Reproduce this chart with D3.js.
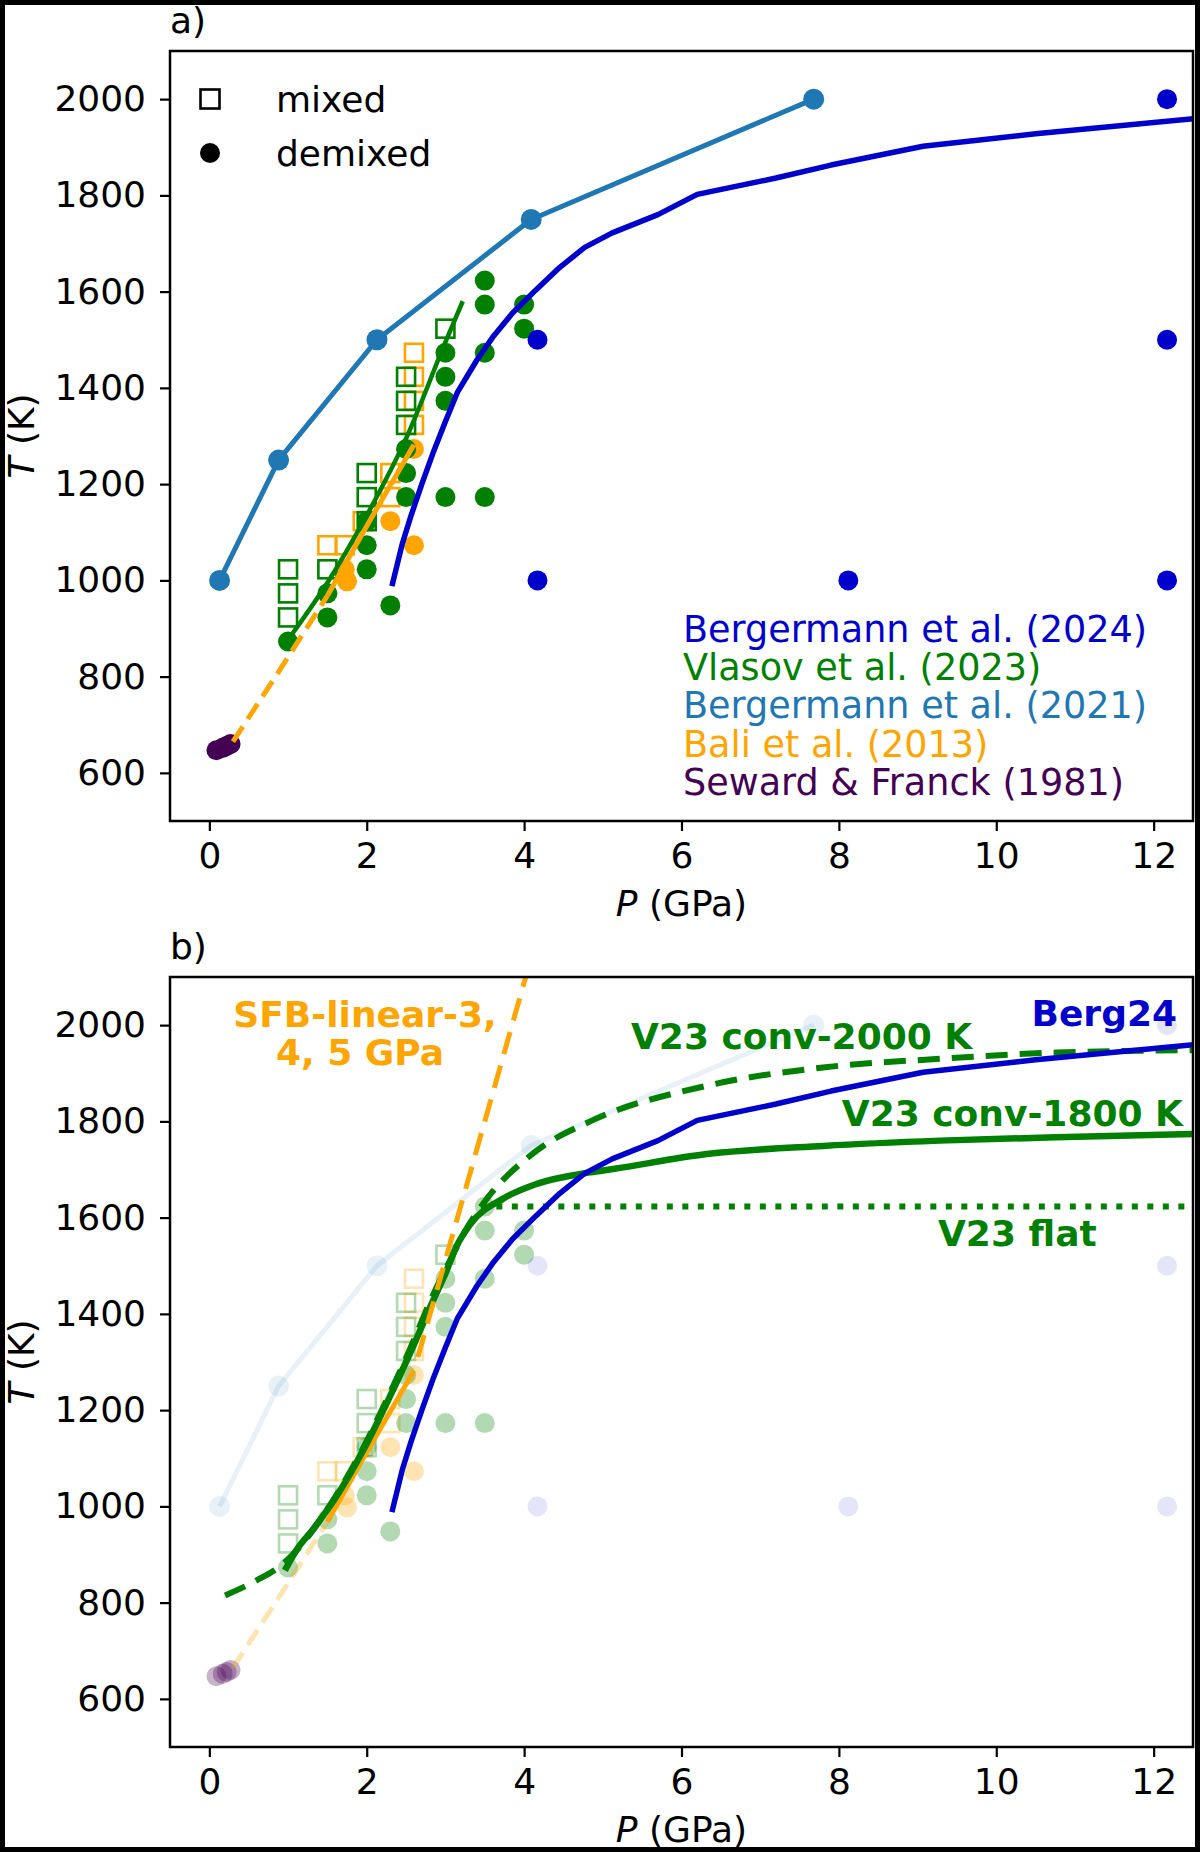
<!DOCTYPE html>
<html>
<head>
<meta charset="utf-8">
<style>
  body { margin: 0; background: #fff; }
  svg { display: block; font-family: "DejaVu Sans", sans-serif; }
</style>
</head>
<body>
<svg id="fig"></svg>
<script src="https://d3js.org/d3.v7.min.js"></script>
<script>
// ---- data (P in GPa, T in K) ----
var xTicks = [0, 2, 4, 6, 8, 10, 12];
var yTicks = [600, 800, 1000, 1200, 1400, 1600, 1800, 2000];

// Bergermann et al. (2021) demixing line
var berg21 = [[0.13, 1000], [0.88, 1250], [2.13, 1500], [4.09, 1750], [7.68, 2000]];

// Bergermann et al. (2024) demixed points + curve
var berg24Pts = [[4.17, 1000], [4.17, 1500], [8.12, 1000], [12.17, 1000], [12.17, 1500], [12.17, 2000]];
var berg24Curve = [[2.32, 988], [2.45, 1075], [2.56, 1133], [2.7, 1200], [2.85, 1268], [3.0, 1330],
  [3.15, 1390], [3.4, 1458], [3.6, 1505], [3.85, 1555], [4.14, 1602], [4.45, 1650], [4.77, 1692],
  [5.12, 1722], [5.7, 1760], [6.2, 1802], [7.2, 1836], [7.9, 1863], [9.07, 1902], [10.5, 1928], [12.6, 1961]];

// Vlasov et al. (2023)
var vlasovMixed = [[1.0, 923], [1.0, 973], [1.0, 1023], [1.5, 1023], [2.0, 1123], [2.0, 1173], [2.0, 1223],
  [2.5, 1323], [2.5, 1373], [2.5, 1423], [3.0, 1523]];
var vlasovDemixed = [[1.0, 873], [1.5, 923], [1.5, 973], [2.0, 1023], [2.0, 1073], [2.0, 1123], [2.3, 948],
  [2.5, 1173], [2.5, 1223], [2.5, 1273], [3.0, 1173], [3.0, 1373], [3.0, 1423], [3.0, 1473],
  [3.5, 1173], [3.5, 1473], [3.5, 1573], [3.5, 1623], [4.0, 1523], [4.0, 1573]];
var vlasovFit = [[1.05, 888], [1.5, 995], [2.0, 1135], [2.5, 1295], [3.0, 1495], [3.22, 1580]];

// Bali et al. (2013)
var baliMixed = [[1.5, 1073], [1.72, 1073], [1.95, 1123], [2.3, 1173], [2.3, 1223],
  [2.6, 1323], [2.6, 1373], [2.6, 1423], [2.6, 1473]];
var baliDemixed = [[1.72, 1023], [1.75, 998], [2.3, 1123], [2.6, 1073], [2.6, 1273]];
var baliExtrap = [[0.3, 665], [0.9, 815], [1.5, 968]];
var baliFit = [[1.5, 968], [2.0, 1113], [2.6, 1282]];

// Seward & Franck (1981)
var seward = [[0.09, 647], [0.17, 652], [0.22, 656], [0.27, 660]];

// panel b models
var sfbLinear = [[2.65, 1310], [4.02, 2100]];
var v23conv2000 = [[0.2, 815], [0.6, 846], [0.94, 881], [1.25, 936], [1.6, 1020], [1.95, 1120],
  [2.25, 1220], [2.55, 1327], [2.85, 1442], [3.05, 1508], [3.23, 1566], [3.48, 1629], [4.16, 1739],
  [4.84, 1800], [6.32, 1874], [7.8, 1912], [9.28, 1930], [10.76, 1943], [12.6, 1948]];
var v23conv1800 = [[0.96, 867], [1.11, 910], [1.32, 953], [1.62, 1022], [1.96, 1118], [2.25, 1213],
  [2.55, 1318], [2.85, 1430], [3.0, 1484], [3.14, 1540], [3.31, 1585], [3.74, 1640], [4.16, 1670],
  [4.84, 1694], [5.13, 1701], [6.32, 1732], [7.8, 1749], [9.28, 1760], [10.76, 1767], [12.6, 1774]];
var v23flat = [[3.45, 1623], [12.6, 1623]];

var sources = ["Bergermann et al. (2024)", "Vlasov et al. (2023)", "Bergermann et al. (2021)",
  "Bali et al. (2013)", "Seward & Franck (1981)"];

// ---- colours ----
var cBerg24 = "#0000cd", cVlasov = "#008000", cBerg21 = "#1f77b4", cBali = "#ffa500", cSeward = "#440154";
var sourceColors = [cBerg24, cVlasov, cBerg21, cBali, cSeward];

var width = 1200, height = 1852;
var left = 170, right = 1193;
var fs = 36;

var svg = d3.select("#fig").attr("width", width).attr("height", height)
  .attr("viewBox", "0 0 " + width + " " + height);

svg.append("rect").attr("width", width).attr("height", height).attr("fill", "#fff");

var panels = [
  { id: "a", top: 51, bottom: 821 },
  { id: "b", top: 977, bottom: 1747 }
];

function drawPanel(p) {
  var faded = p.id === "b";
  var x = d3.scaleLinear().domain([-0.5, 12.5]).range([left, right]);
  var y = d3.scaleLinear().domain([500, 2100]).range([p.bottom, p.top]);
  var line = d3.line().x(function(d) { return x(d[0]); }).y(function(d) { return y(d[1]); });
  var smooth = d3.line().curve(d3.curveMonotoneX)
    .x(function(d) { return x(d[0]); }).y(function(d) { return y(d[1]); });
  var g = svg.append("g").attr("id", "panel-" + p.id);

  g.append("clipPath").attr("id", "clip-" + p.id)
    .append("rect").attr("x", left).attr("y", p.top).attr("width", right - left).attr("height", p.bottom - p.top);
  var plot = g.append("g").attr("clip-path", "url(#clip-" + p.id + ")");

  function path(data, color, w, opts) {
    opts = opts || {};
    plot.append("path").datum(data)
      .attr("d", opts.smooth ? smooth : line)
      .attr("fill", "none")
      .attr("stroke", color)
      .attr("stroke-width", w)
      .attr("stroke-opacity", opts.alpha == null ? 1 : opts.alpha)
      .attr("stroke-dasharray", opts.dash || null)
      .attr("stroke-linecap", opts.cap || "butt")
      .attr("stroke-linejoin", "round");
  }
  function circles(data, color, r, alpha) {
    plot.append("g").selectAll("circle").data(data).enter().append("circle")
      .attr("cx", function(d) { return x(d[0]); })
      .attr("cy", function(d) { return y(d[1]); })
      .attr("r", r)
      .attr("fill", color)
      .attr("fill-opacity", alpha);
  }
  function squares(data, color, s, alpha) {
    plot.append("g").selectAll("rect").data(data).enter().append("rect")
      .attr("x", function(d) { return x(d[0]) - s / 2; })
      .attr("y", function(d) { return y(d[1]) - s / 2; })
      .attr("width", s).attr("height", s)
      .attr("fill", "none")
      .attr("stroke", color)
      .attr("stroke-width", 2.6)
      .attr("stroke-opacity", alpha);
  }

  // Bergermann 2021
  path(berg21, cBerg21, 5, { alpha: faded ? 0.1 : 1 });
  circles(berg21, cBerg21, 10.5, faded ? 0.1 : 1);
  // Bali
  squares(baliMixed, cBali, 18, faded ? 0.3 : 1);
  circles(baliDemixed, cBali, 10, faded ? 0.3 : 1);
  // Vlasov
  squares(vlasovMixed, cVlasov, 18, faded ? 0.3 : 1);
  circles(vlasovDemixed, cVlasov, 10, faded ? 0.3 : 1);
  // Bergermann 2024 points
  circles(berg24Pts, cBerg24, 10, faded ? 0.1 : 1);
  // Seward & Franck
  circles(seward, cSeward, 10, faded ? 0.3 : 1);

  // lines
  path(baliExtrap, cBali, 5, { alpha: faded ? 0.3 : 1, dash: "18,9" });
  path(baliFit, cBali, 5);
  if (!faded) {
    path(vlasovFit, cVlasov, 4.5, { smooth: true });
  } else {
    path(v23flat, cVlasov, 6, { dash: "6,9.5" });
    path(v23conv1800, cVlasov, 6.5, { smooth: true });
    path(v23conv2000, cVlasov, 6, { dash: "22,12", smooth: true });
    path(sfbLinear, cBali, 5, { dash: "23,12" });
  }
  path(berg24Curve, cBerg24, 5.5);

  // axes frame
  g.append("rect").attr("x", left).attr("y", p.top).attr("width", right - left).attr("height", p.bottom - p.top)
    .attr("fill", "none").attr("stroke", "#000").attr("stroke-width", 2.5);

  var xAxis = g.append("g").attr("transform", "translate(0," + p.bottom + ")")
    .call(d3.axisBottom(x).tickValues(xTicks).tickSize(10).tickSizeOuter(0).tickPadding(11)
      .tickFormat(d3.format("d")));
  var yAxis = g.append("g").attr("transform", "translate(" + left + ",0)")
    .call(d3.axisLeft(y).tickValues(yTicks).tickSize(10).tickSizeOuter(0).tickPadding(14)
      .tickFormat(d3.format("d")));
  [xAxis, yAxis].forEach(function(a) {
    a.select(".domain").remove();
    a.selectAll(".tick line").attr("stroke", "#000").attr("stroke-width", 2.2);
    a.selectAll(".tick text").attr("fill", "#000").style("font-size", fs + "px")
      .style("font-family", "DejaVu Sans");
  });

  // axis labels
  var xl = g.append("text").attr("x", (left + right) / 2).attr("y", p.bottom + 95)
    .attr("text-anchor", "middle").style("font-size", fs + "px");
  xl.append("tspan").style("font-style", "italic").text("P");
  xl.append("tspan").text(" (GPa)");

  var cy = (p.top + p.bottom) / 2;
  var yl = g.append("text").attr("transform", "translate(34," + cy + ") rotate(-90)")
    .attr("text-anchor", "middle").style("font-size", fs + "px");
  yl.append("tspan").style("font-style", "italic").text("T");
  yl.append("tspan").text(" (K)");

  // panel letter
  g.append("text").attr("x", left).attr("y", p.top - 18).style("font-size", fs + "px").text(p.id + ")");

  if (!faded) {
    // marker legend
    var lg = g.append("g");
    lg.append("rect").attr("x", 210 - 9.5).attr("y", 99 - 9.5).attr("width", 19).attr("height", 19)
      .attr("fill", "none").attr("stroke", "#000").attr("stroke-width", 2.6);
    lg.append("circle").attr("cx", 210).attr("cy", 153).attr("r", 10).attr("fill", "#000");
    lg.append("text").attr("x", 276).attr("y", 111.5).style("font-size", fs + "px").text("mixed");
    lg.append("text").attr("x", 276).attr("y", 165.5).style("font-size", fs + "px").text("demixed");

    // source legend
    g.append("g").selectAll("text").data(sources).enter().append("text")
      .attr("x", 683)
      .attr("y", function(d, i) { return 641.7 + i * 38.3; })
      .attr("fill", function(d, i) { return sourceColors[i]; })
      .style("font-size", "36.6px")
      .text(function(d) { return d; });
  } else {
    var bold = function(t, xx, yy, color, anchor) {
      return g.append("text").attr("x", xx).attr("y", yy).attr("fill", color)
        .attr("text-anchor", anchor || "start")
        .style("font-size", fs + "px").style("font-weight", "bold").text(t);
    };
    bold("SFB-linear-3,", 365, 1027, cBali, "middle");
    bold("4, 5 GPa", 360, 1065, cBali, "middle");
    bold("V23 conv-2000 K", 631, 1049, cVlasov);
    bold("Berg24", 1177, 1026, cBerg24, "end");
    bold("V23 conv-1800 K", 1183, 1126, cVlasov, "end");
    bold("V23 flat", 938, 1246, cVlasov);
  }
}

panels.forEach(drawPanel);

// figure frame
svg.append("rect").attr("x", 2.5).attr("y", 2.5).attr("width", width - 5).attr("height", height - 5)
  .attr("fill", "none").attr("stroke", "#000").attr("stroke-width", 5);
</script>
</body>
</html>
